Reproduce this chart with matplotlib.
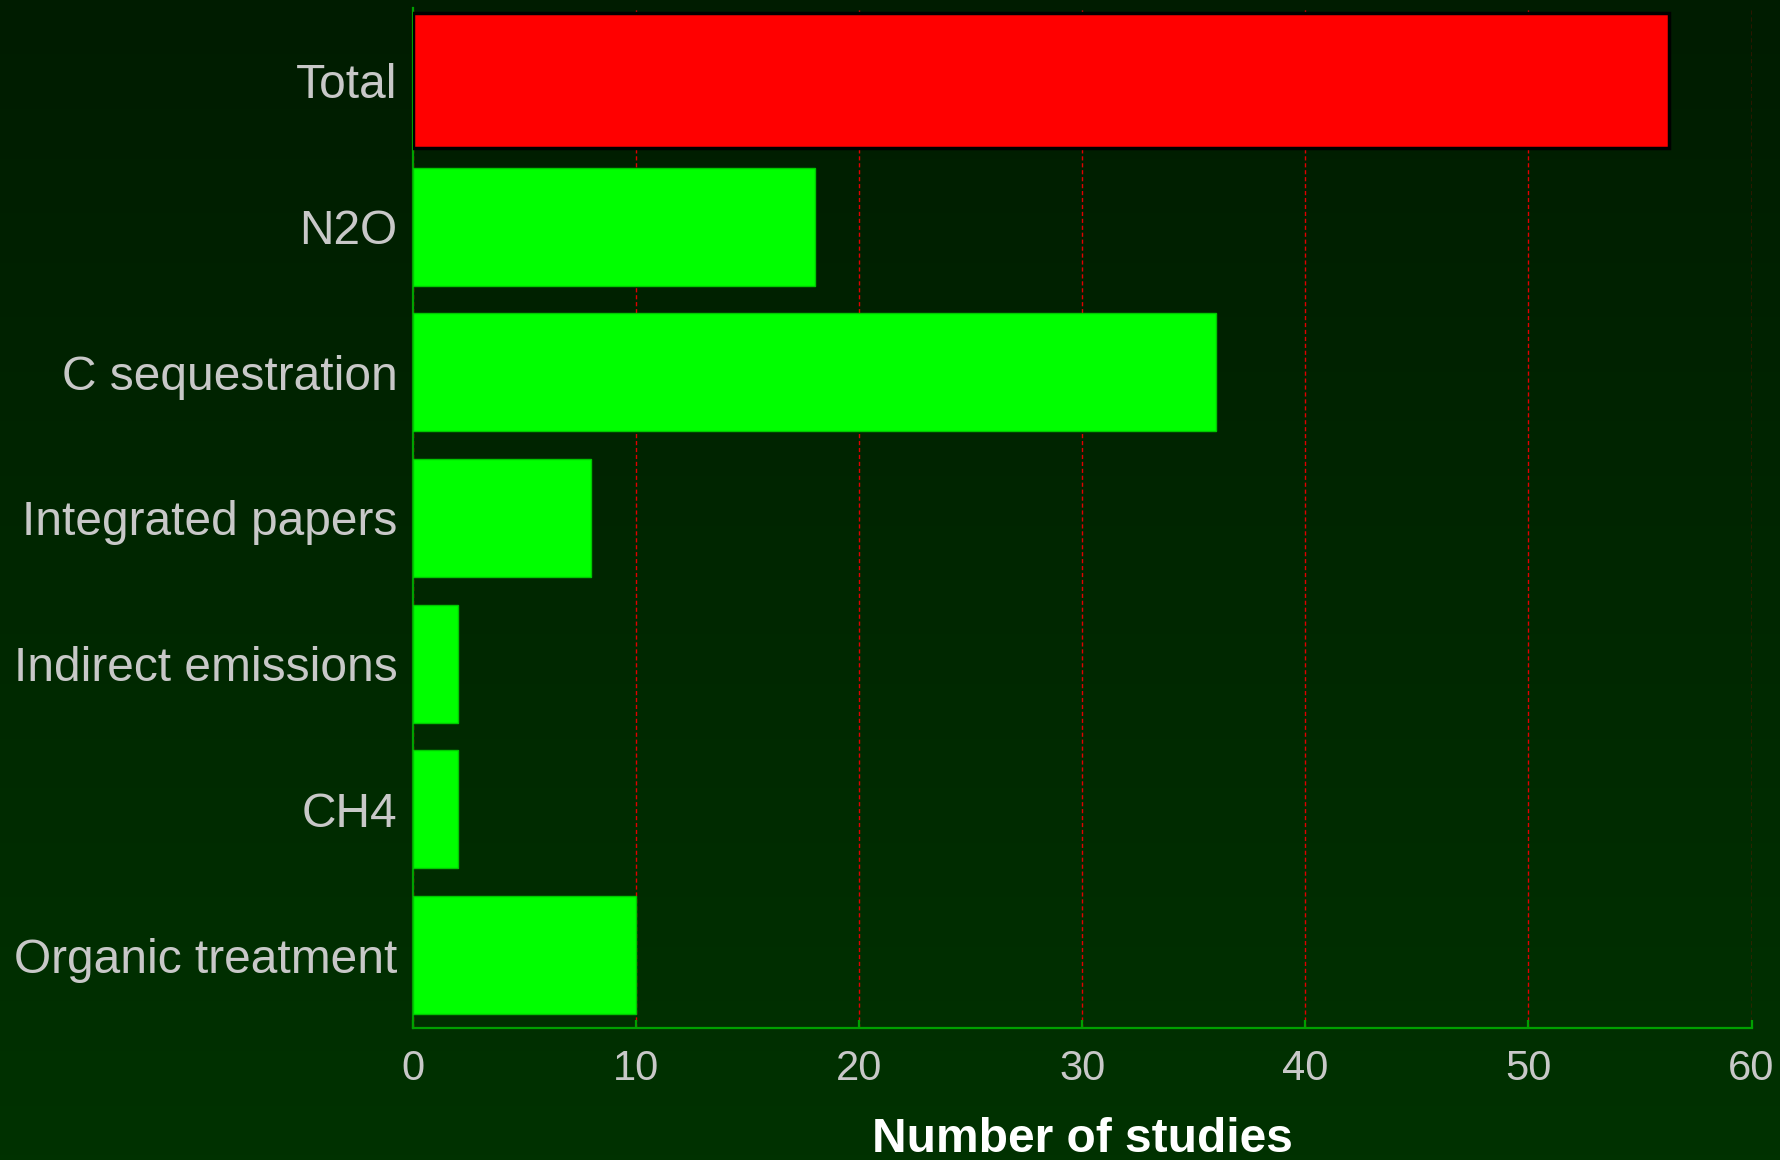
import numpy as np
import matplotlib
matplotlib.use("Agg")
import matplotlib.pyplot as plt
from matplotlib.colors import LinearSegmentedColormap

plt.rcParams['font.family'] = ['Liberation Sans', 'DejaVu Sans']

# Study counts per category (bottom to top)
categories = ["Organic treatment", "CH4", "Indirect emissions",
              "Integrated papers", "C sequestration", "N2O", "Total"]
studies = [10, 2, 2, 8, 36, 18, 56.3]
bar_colors = ["#00ff00"] * 6 + ["#ff0000"]
x_ticks = [0, 10, 20, 30, 40, 50, 60]

fig = plt.figure(figsize=(17.8, 11.6), dpi=100)

# Dark green vertical gradient behind everything
bg = fig.add_axes([0, 0, 1, 1], zorder=-10)
grad = np.linspace(0, 1, 256).reshape(-1, 1)
cmap = LinearSegmentedColormap.from_list("bg", ["#001c00", "#003200"])
bg.imshow(grad, aspect="auto", cmap=cmap, extent=[0, 1, 0, 1], origin="upper")
bg.set_axis_off()

ax = fig.add_axes([0.232, 0.1138, 0.752, 0.8793])
ax.set_facecolor("none")

ypos = np.arange(len(categories))
heights = [0.81] * 6 + [0.925]
edges = ["#00c800"] * 6 + ["#000000"]
lws = [1.0] * 6 + [2.5]
ax.barh(ypos, studies, height=heights, color=bar_colors,
        edgecolor=edges, linewidth=lws, zorder=3)

ax.set_xlim(0, 60)
ax.set_ylim(-0.5, 6.5)
ax.set_xticks(x_ticks)
ax.set_yticks(ypos)
ax.set_yticklabels(categories)

ax.xaxis.grid(True, color="#e00000", linestyle=(0, (3, 2)), linewidth=1.0, zorder=1)
ax.set_axisbelow(True)

for side in ["top", "right"]:
    ax.spines[side].set_visible(False)
for side in ["left", "bottom"]:
    ax.spines[side].set_color("#00a000")
    ax.spines[side].set_linewidth(1.6)

ax.tick_params(axis="x", direction="in", length=6, width=1.6, color="#00a000",
               labelsize=30, labelcolor="#c8c8c8", pad=15)
ax.tick_params(axis="y", length=0, labelsize=34.5, labelcolor="#c8c8c8", pad=11)

fig.text(0.608, 0.0069, "Number of studies", ha="center", va="baseline",
         fontsize=34.5, fontweight="bold", color="white")

fig.savefig("out.png", dpi=100)
